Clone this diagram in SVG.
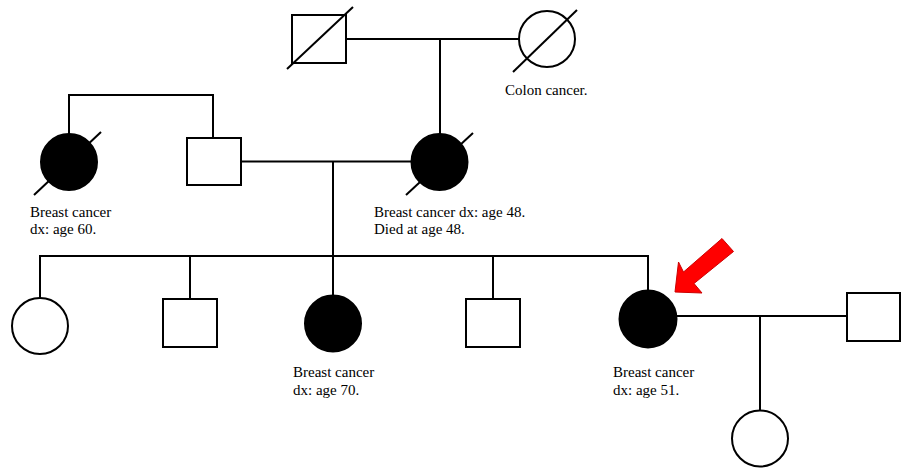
<svg xmlns="http://www.w3.org/2000/svg" width="901" height="469" viewBox="0 0 901 469">
<style>
.ln{stroke:#000;stroke-width:2;fill:none}
.m{fill:#fff;stroke:#000;stroke-width:2}
.a{fill:#000;stroke:#000;stroke-width:2}
.d{stroke:#000;stroke-width:2}
text{font-family:"Liberation Serif","Times New Roman",serif;font-size:15px;fill:#000}
</style>
<rect width="901" height="469" fill="#fff"/>
<g id="connectors">
<line class="ln" x1="346" y1="39" x2="519" y2="39"/>
<line class="ln" x1="440" y1="39" x2="440" y2="134"/>
<polyline class="ln" points="69,134 69,95 213,95 213,138"/>
<line class="ln" x1="241" y1="161.5" x2="411" y2="161.5"/>
<line class="ln" x1="333" y1="161.5" x2="333" y2="295"/>
<line class="ln" x1="39" y1="256" x2="649" y2="256"/>
<line class="ln" x1="40" y1="256" x2="40" y2="298"/>
<line class="ln" x1="190" y1="256" x2="190" y2="299"/>
<line class="ln" x1="493" y1="256" x2="493" y2="299"/>
<line class="ln" x1="648" y1="255" x2="648" y2="291"/>
<line class="ln" x1="677" y1="316" x2="847" y2="316"/>
<line class="ln" x1="760" y1="316" x2="760" y2="410"/>
</g>
<g id="grandfather">
<rect class="m" x="292" y="15" width="54" height="48"/>
<line class="d" x1="287" y1="69" x2="353" y2="7"/>
</g>
<g id="grandmother">
<circle class="m" cx="547" cy="39" r="28"/>
<line class="d" x1="513" y1="72" x2="577" y2="10"/>
<text x="505" y="95">Colon cancer.</text>
</g>
<g id="paternal-grandmother">
<circle class="a" cx="69" cy="162" r="28"/>
<line class="d" x1="34" y1="195" x2="101" y2="132"/>
<text x="30" y="217">Breast cancer</text>
<text x="30" y="234">dx: age 60.</text>
</g>
<g id="father">
<rect class="m" x="187" y="138" width="54" height="47"/>
</g>
<g id="mother">
<circle class="a" cx="439.5" cy="162" r="28"/>
<line class="d" x1="406" y1="195" x2="473" y2="133"/>
<text x="374" y="217">Breast cancer dx: age 48.</text>
<text x="374" y="234">Died at age 48.</text>
</g>
<g id="sister1">
<circle class="m" cx="40" cy="326" r="28"/>
</g>
<g id="brother1">
<rect class="m" x="163" y="299" width="54" height="48"/>
</g>
<g id="sister2">
<circle class="a" cx="333" cy="323.5" r="28"/>
<text x="293" y="377">Breast cancer</text>
<text x="293" y="395">dx: age 70.</text>
</g>
<g id="brother2">
<rect class="m" x="466" y="299" width="54" height="48"/>
</g>
<g id="proband">
<circle class="a" cx="648" cy="319" r="28.5"/>
<text x="613" y="377">Breast cancer</text>
<text x="613" y="395">dx: age 51.</text>
</g>
<g id="spouse">
<rect class="m" x="847" y="293" width="53" height="48"/>
</g>
<g id="daughter">
<circle class="m" cx="760" cy="438.5" r="28"/>
</g>
<g id="proband-arrow">
<polygon points="675,292 678.5,262 683.5,272 722,238.5 733.5,251.5 694,283.5 702,293" fill="#f00" stroke="#c00" stroke-width="1"/>
</g>
</svg>
